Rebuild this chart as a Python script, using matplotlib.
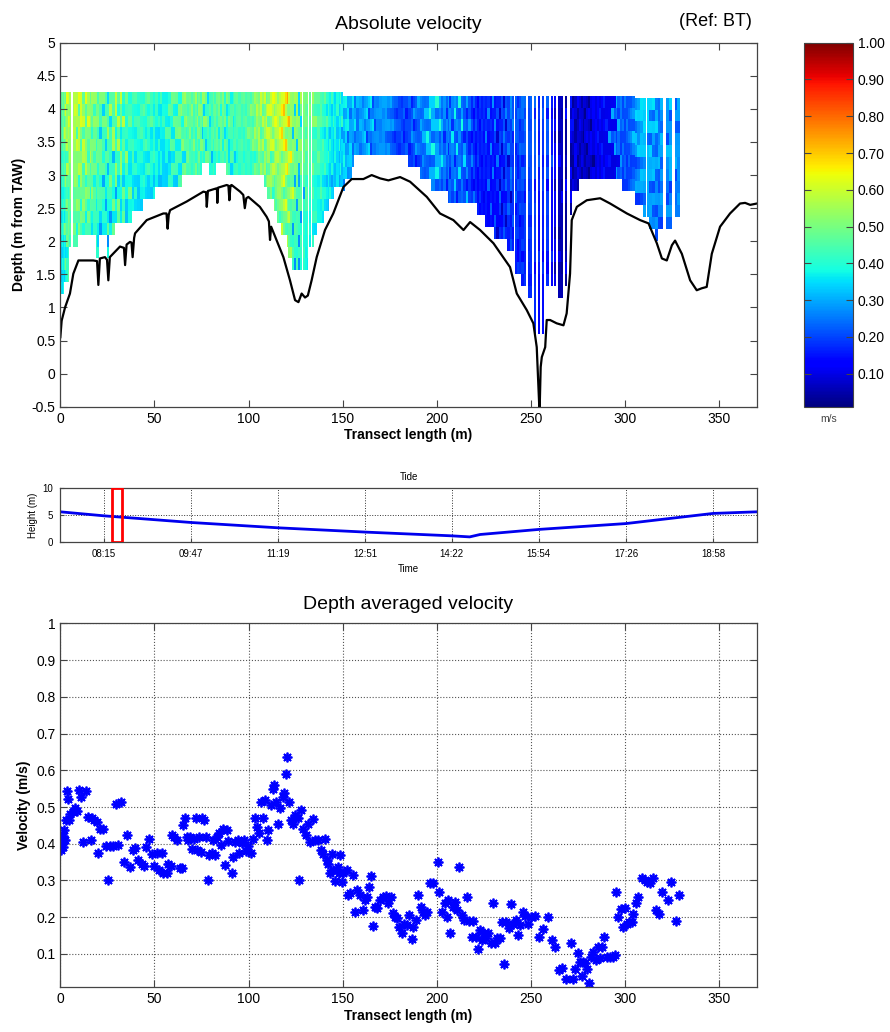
import numpy as np
import matplotlib
matplotlib.use('Agg')
import matplotlib.pyplot as plt
from matplotlib.patches import Rectangle

plt.rcParams['font.family'] = ['Liberation Sans', 'DejaVu Sans']

# depth averaged velocity per ensemble (transect length in m, velocity in m/s)
ens_x = [0.4, 0.7, 1.2, 1.6, 2.1, 2.5, 3.0, 3.4, 4.3, 4.7, 5.1, 6.6, 7.8, 9.0, 10.1, 11.0, 12.2, 13.6,
         14.9, 16.1, 16.6, 18.1, 19.3, 19.8, 21.1, 22.8, 24.3, 25.1, 26.4, 28.2, 29.6, 30.8, 32.1, 33.8,
         35.2, 37.0, 38.8, 39.7, 41.4, 43.2, 44.5, 45.5, 46.9, 48.5, 49.8, 51.2, 52.6, 53.8, 54.7, 56.5,
         57.4, 58.6, 59.2, 60.4, 61.8, 63.6, 64.5, 65.0, 66.2, 67.1, 68.0, 68.9, 70.1, 71.2, 72.1, 72.8,
         73.7, 74.7, 75.5, 76.5, 77.4, 78.3, 79.2, 80.4, 81.3, 82.2, 83.4, 84.3, 85.4, 86.6, 87.5, 88.4,
         89.3, 91.4, 91.9, 92.8, 94.2, 95.1, 96.4, 97.6, 98.7, 99.9, 101.1, 102.6, 103.4, 104.7, 105.7,
         106.6, 107.9, 108.7, 109.6, 110.5, 111.8, 112.8, 113.7, 114.6, 115.8, 116.7, 118.1, 119.0, 119.9,
         120.6, 121.7, 122.4, 123.8, 124.7, 126.0, 126.8, 127.9, 129.1, 130.5, 131.4, 132.7, 134.1, 135.3,
         137.1, 138.3, 139.4, 140.6, 141.5, 142.4, 143.3, 144.2, 145.1, 146.0, 147.4, 148.2, 148.6, 149.5,
         150.4, 152.1, 153.0, 153.9, 155.7, 156.6, 157.8, 159.2, 161.0, 161.9, 163.1, 164.2, 164.9, 166.0,
         167.2, 168.4, 169.9, 171.6, 173.0, 174.3, 175.5, 176.6, 177.8, 178.7, 180.1, 181.4, 182.6, 184.0,
         185.4, 186.7, 187.6, 189.0, 190.2, 191.5, 192.5, 193.8, 195.0, 196.4, 197.9, 200.5, 201.4, 202.7,
         204.1, 205.3, 206.2, 207.1, 208.5, 209.7, 210.6, 212.0, 213.3, 214.5, 216.3, 217.3, 218.6, 219.5,
         220.9, 221.8, 223.0, 223.9, 225.1, 226.2, 227.4, 228.7, 230.1, 231.0, 232.2, 233.6, 234.5, 235.8,
         236.8, 238.1, 239.5, 240.7, 242.1, 243.4, 244.2, 245.7, 246.9, 248.7, 249.9, 252.2, 254.5, 256.3,
         258.9, 261.1, 262.8, 265.1, 266.4, 268.5, 271.2, 272.2, 273.5, 275.2, 276.1, 277.0, 277.9, 278.8,
         280.0, 281.1, 281.8, 283.2, 284.6, 285.8, 286.7, 287.6, 288.8, 290.3, 292.0, 293.5, 294.7, 295.2,
         296.5, 297.7, 299.1, 300.0, 301.2, 302.3, 303.5, 304.4, 305.8, 307.1, 308.8, 310.6, 311.9, 313.3,
         315.0, 316.5, 318.2, 319.5, 322.7, 324.2, 327.1, 328.5]
ens_v = [0.383, 0.40, 0.42, 0.39, 0.437, 0.41, 0.464, 0.544, 0.523, 0.464, 0.482, 0.487, 0.496, 0.49,
         0.547, 0.528, 0.405, 0.544, 0.473, 0.41, 0.469, 0.464, 0.46, 0.376, 0.441, 0.441, 0.393, 0.301,
         0.393, 0.393, 0.508, 0.396, 0.514, 0.349, 0.425, 0.337, 0.383, 0.389, 0.355, 0.346, 0.339, 0.392,
         0.413, 0.372, 0.339, 0.374, 0.328, 0.376, 0.321, 0.319, 0.345, 0.339, 0.425, 0.419, 0.41, 0.335,
         0.333, 0.45, 0.471, 0.419, 0.41, 0.419, 0.387, 0.413, 0.469, 0.383, 0.419, 0.378, 0.469, 0.464,
         0.419, 0.301, 0.369, 0.376, 0.41, 0.369, 0.419, 0.43, 0.396, 0.441, 0.342, 0.437, 0.407, 0.321,
         0.364, 0.405, 0.41, 0.374, 0.401, 0.41, 0.38, 0.393, 0.374, 0.414, 0.471, 0.446, 0.428, 0.514,
         0.469, 0.52, 0.41, 0.437, 0.505, 0.55, 0.559, 0.514, 0.455, 0.496, 0.526, 0.537, 0.591, 0.636,
         0.514, 0.464, 0.453, 0.478, 0.469, 0.301, 0.491, 0.439, 0.423, 0.455, 0.405, 0.466, 0.41, 0.41,
         0.383, 0.372, 0.412, 0.355, 0.345, 0.319, 0.371, 0.328, 0.298, 0.337, 0.321, 0.369, 0.297, 0.321,
         0.328, 0.26, 0.265, 0.315, 0.215, 0.274, 0.26, 0.22, 0.247, 0.256, 0.283, 0.312, 0.177, 0.229,
         0.224, 0.247, 0.256, 0.258, 0.24, 0.256, 0.211, 0.201, 0.197, 0.174, 0.156, 0.181, 0.179, 0.206,
         0.14, 0.174, 0.192, 0.26, 0.229, 0.215, 0.206, 0.215, 0.292, 0.292, 0.351, 0.268, 0.215, 0.24,
         0.201, 0.247, 0.156, 0.229, 0.242, 0.22, 0.336, 0.206, 0.192, 0.256, 0.19, 0.147, 0.19, 0.147,
         0.113, 0.165, 0.138, 0.156, 0.143, 0.158, 0.131, 0.238, 0.129, 0.143, 0.143, 0.188, 0.073, 0.188,
         0.17, 0.236, 0.181, 0.192, 0.152, 0.179, 0.215, 0.203, 0.181, 0.201, 0.203, 0.145, 0.167, 0.201,
         0.138, 0.12, 0.057, 0.061, 0.031, 0.129, 0.031, 0.058, 0.102, 0.079, 0.04, 0.079, 0.075, 0.058,
         0.022, 0.091, 0.106, 0.084, 0.118, 0.088, 0.118, 0.147, 0.091, 0.091, 0.093, 0.097, 0.268, 0.201,
         0.221, 0.174, 0.224, 0.182, 0.188, 0.188, 0.21, 0.238, 0.256, 0.306, 0.301, 0.297, 0.292, 0.306,
         0.22, 0.208, 0.269, 0.247, 0.297, 0.19, 0.26]

# ensembles without valid bins (white stripes in the section)
blank_x = [6.4, 128.5, 131.9, 133.6, 241.4, 247.8, 251.0, 253.3, 255.4, 257.6, 260.0, 262.0, 264.0,
           267.5, 269.9, 311.25, 321.0, 325.6]

# first valid bin (water surface) and last valid bin, step values starting at x
surf_x = [0, 150, 305]
surf_z = [4.26, 4.20, 4.17]
bed_x = [0, 2, 4.6, 9.5, 19.2, 20.6, 24.6, 26, 29.5, 38.5, 44, 50, 65, 75, 79, 83, 88, 108, 110.5,
         113, 115.5, 117.6, 120, 121.5, 123, 132, 134.5, 137, 140, 143, 146, 151, 154, 156, 185,
         190.7, 197.8, 205.8, 221.7, 226, 230.5, 237.2, 241.6, 245.2, 248.2, 250.8, 257.5, 264.2,
         267.2, 270.4, 271.6, 276.1, 298, 305, 310.3, 313, 315.5, 318, 320, 324.5]
bed_z = [1.21, 1.39, 1.92, 2.09, 1.76, 2.09, 1.76, 2.09, 2.27, 2.45, 2.63, 2.8, 2.97, 3.15, 2.97,
         3.15, 2.97, 2.82, 2.62, 2.42, 2.27, 2.12, 1.89, 1.71, 1.54, 1.89, 2.07, 2.27, 2.42, 2.62, 2.8,
         2.97, 3.15, 3.32, 3.14, 2.97, 2.77, 2.6, 2.42, 2.24, 2.06, 1.86, 1.51, 1.31, 1.13, 0.62, 1.29,
         1.11, 1.29, 2.48, 2.73, 2.91, 2.73, 2.55, 2.38, 2.2, 2.02, 2.2, 2.2, 2.38]

bin_size = 0.18
n_bins = 21
bin_factor = [1.16, 1.12, 1.14, 1.08, 1.10, 1.04, 1.06, 0.99, 0.97, 0.98, 0.92, 0.94, 0.90, 0.88,
              0.90, 0.86, 0.87, 0.85, 0.86, 0.85, 0.85]
bin_shift = [0, 2, -1, 3, 1, -2, 0, 2, -3, 1, -1, 3, 0, -2, 2, -1, 1, 0, -1, 1, 0]

# bottom from bottom track
bath_x = [0, 0.7, 2.5, 5.1, 6.9, 9.6, 17.5, 19.5, 20.2, 21, 23.7, 24.8, 25.5, 26.3, 27.3, 31.7,
          33.8, 34.4, 35.2, 37, 37.8, 38.4, 39.2, 39.7, 45.9, 54.7, 56.4, 57, 57.6, 58.3, 67.1, 76,
          77.4, 77.8, 78.4, 83, 83.2, 83.4, 83.8, 88.4, 89.3, 89.8, 90.4, 91, 95.5, 97.2, 98, 98.8,
          99.9, 106, 109.6, 110.8, 111.4, 112, 118.5, 122, 124.7, 126.5, 128.2, 130, 131.5, 133.5,
          136.2, 140.6, 145, 150.4, 154.8, 161, 165.4, 169.9, 174.3, 180.5, 185.8, 194.7, 201.7,
          208.8, 214.2, 217.7, 223, 230.1, 238.9, 242.5, 247.8, 251.3, 253.1, 254, 254.6, 255.2,
          255.8, 257.6, 258.4, 260.2, 263.7, 267.3, 269, 270.8, 271.7, 274.4, 279.7, 286.8, 292.1,
          301, 308, 312.5, 316.9, 319.6, 322.2, 324.9, 326.6, 330.2, 334.6, 338.1, 340.8, 343.4,
          346.1, 350.5, 355.8, 361.1, 363.8, 366.5, 370]
bath_z = [0.55, 0.8, 1.0, 1.21, 1.51, 1.71, 1.71, 1.70, 1.34, 1.74, 1.76, 1.72, 1.41, 1.76, 1.79,
          1.92, 1.9, 1.64, 1.95, 1.99, 1.98, 1.76, 2.05, 2.12, 2.32, 2.42, 2.42, 2.19, 2.4, 2.47, 2.6,
          2.75, 2.74, 2.52, 2.76, 2.8, 2.79, 2.58, 2.81, 2.85, 2.84, 2.62, 2.84, 2.85, 2.75, 2.7, 2.5,
          2.65, 2.67, 2.52, 2.37, 2.3, 2.02, 2.22, 1.76, 1.41, 1.11, 1.08, 1.21, 1.15, 1.18, 1.41,
          1.76, 2.17, 2.42, 2.82, 2.94, 2.94, 3.0, 2.95, 2.92, 2.97, 2.9, 2.67, 2.42, 2.32, 2.17,
          2.29, 2.17, 1.97, 1.61, 1.21, 0.96, 0.76, 0.40, -0.2, -0.6, 0.1, 0.25, 0.40, 0.81, 0.81,
          0.76, 0.73, 0.91, 1.51, 2.32, 2.52, 2.62, 2.65, 2.57, 2.42, 2.32, 2.27, 1.97, 1.74, 1.71,
          1.94, 2.01, 1.81, 1.41, 1.26, 1.29, 1.31, 1.81, 2.22, 2.42, 2.57, 2.58, 2.55, 2.57]

# tide (minutes after midnight, height m)
tide_t = [449, 495, 587, 679, 771, 862, 881, 892, 954, 1046, 1075, 1138, 1184]
tide_h = [5.6, 4.85, 3.6, 2.6, 1.8, 1.1, 0.9, 1.35, 2.3, 3.4, 4.0, 5.3, 5.6]
tide_ticks = [495, 587, 679, 771, 862, 954, 1046, 1138]
tide_labels = ['08:15', '09:47', '11:19', '12:51', '14:22', '15:54', '17:26', '18:58']
transect_time = [504, 514]

frame = '#444444'

# build the velocity section
x_all = np.array(ens_x + blank_x)
v_all = np.array(ens_v + [np.nan] * len(blank_x))
order = np.argsort(x_all)
x_all = x_all[order]
v_all = v_all[order]
n = len(x_all)
mid = (x_all[1:] + x_all[:-1]) / 2
left = np.r_[0.0, mid]
right = np.r_[mid, x_all[-1] + (x_all[-1] - mid[-1])]
top = np.array(surf_z)[np.searchsorted(surf_x, x_all, side='right') - 1]
bed = np.array(bed_z)[np.searchsorted(bed_x, x_all, side='right') - 1]

k = np.arange(n_bins + 1)[:, None]
X = np.empty((n_bins + 1, 2 * n))
Y = np.empty((n_bins + 1, 2 * n))
X[:, 0::2] = left
X[:, 1::2] = right
Y[:, 0::2] = top - bin_size * k
Y[:, 1::2] = top - bin_size * k
C = np.full((n_bins, 2 * n - 1), np.nan)
for i in range(n):
    if np.isnan(v_all[i]):
        continue
    for r in range(n_bins):
        if top[i] - bin_size * (r + 1) < bed[i] - bin_size / 2:
            break
        j = min(max(i + bin_shift[r], 0), n - 1)
        v = v_all[j] if not np.isnan(v_all[j]) else v_all[i]
        C[r, 2 * i] = v * bin_factor[r]
C = np.ma.masked_invalid(C)

fig = plt.figure(figsize=(8.9, 10.32), dpi=100)


def style_axes(ax, size):
    for s in ax.spines.values():
        s.set_color(frame)
        s.set_linewidth(0.9)
    ax.tick_params(direction='in', top=True, right=True, labelsize=size,
                   color=frame, length=5)


# --- absolute velocity section
ax = fig.add_axes([0.0678, 0.6059, 0.7825, 0.3527])
mesh = ax.pcolormesh(X, Y, C, cmap='jet', vmin=0.01, vmax=1.0, shading='flat')
ax.plot(bath_x, bath_z, color='black', lw=1.6)
ax.set_xlim(0, 370)
ax.set_ylim(-0.5, 5)
ax.set_xticks(np.arange(0, 351, 50))
ax.set_yticks(np.arange(-0.5, 5.01, 0.5))
ax.set_yticklabels(['%g' % t for t in np.arange(-0.5, 5.01, 0.5)])
style_axes(ax, 10)
ax.set_xlabel('Transect length (m)', fontsize=10, fontweight='bold', labelpad=2)
ax.set_ylabel('Depth (m from TAW)', fontsize=10, fontweight='bold', labelpad=4)
ax.set_title('Absolute velocity', fontsize=14, pad=10)
ax.text(0.993, 1.057, '(Ref: BT)', transform=ax.transAxes, ha='right', va='center', fontsize=13)

cax = fig.add_axes([0.9034, 0.6059, 0.0551, 0.3527])
cb = fig.colorbar(mesh, cax=cax, ticks=np.arange(0.1, 1.01, 0.1), format='%.2f')
cb.outline.set_edgecolor(frame)
cax.yaxis.set_ticks_position('both')
cax.tick_params(direction='in', length=5, labelsize=10, color=frame)
cax.text(0.5, -0.035, 'm/s', transform=cax.transAxes, ha='center', va='center',
         fontsize=7.5, color='#444444')

# --- tide
axt = fig.add_axes([0.0678, 0.4751, 0.7825, 0.0517])
axt.plot(tide_t, tide_h, color='#0000ee', lw=2.0)
axt.add_patch(Rectangle((transect_time[0], 0), transect_time[1] - transect_time[0], 10,
                        fill=False, ec='red', lw=2, zorder=5))
axt.set_xlim(449, 1184)
axt.set_ylim(0, 10)
axt.set_xticks(tide_ticks)
axt.set_xticklabels(tide_labels)
axt.set_yticks([0, 5, 10])
axt.grid(True, ls=':', color='#333333', lw=0.7)
style_axes(axt, 7)
axt.tick_params(length=3, top=False, right=False, pad=5)
axt.set_xlabel('Time', fontsize=7, labelpad=4)
axt.set_ylabel('Height (m)', fontsize=7, labelpad=3)
axt.set_title('Tide', fontsize=7, pad=6)

# --- depth averaged velocity
axb = fig.add_axes([0.0678, 0.0436, 0.7825, 0.3524])
axb.plot(ens_x, ens_v, ls='none', marker=(8, 2, 0), ms=7, mew=1.3, color='#0000ff')
axb.set_xlim(0, 370)
axb.set_ylim(0.01, 1)
axb.set_xticks(np.arange(0, 351, 50))
axb.set_yticks(np.arange(0.1, 1.01, 0.1))
axb.set_yticklabels(['%g' % round(t, 1) for t in np.arange(0.1, 1.01, 0.1)])
axb.grid(True, ls=':', color='#555555', lw=0.8)
axb.set_axisbelow(True)
style_axes(axb, 10)
axb.set_xlabel('Transect length (m)', fontsize=10, fontweight='bold', labelpad=2)
axb.set_ylabel('Velocity (m/s)', fontsize=10, fontweight='bold', labelpad=4)
axb.set_title('Depth averaged velocity', fontsize=14, pad=10)

plt.savefig('out.png', dpi=100)
